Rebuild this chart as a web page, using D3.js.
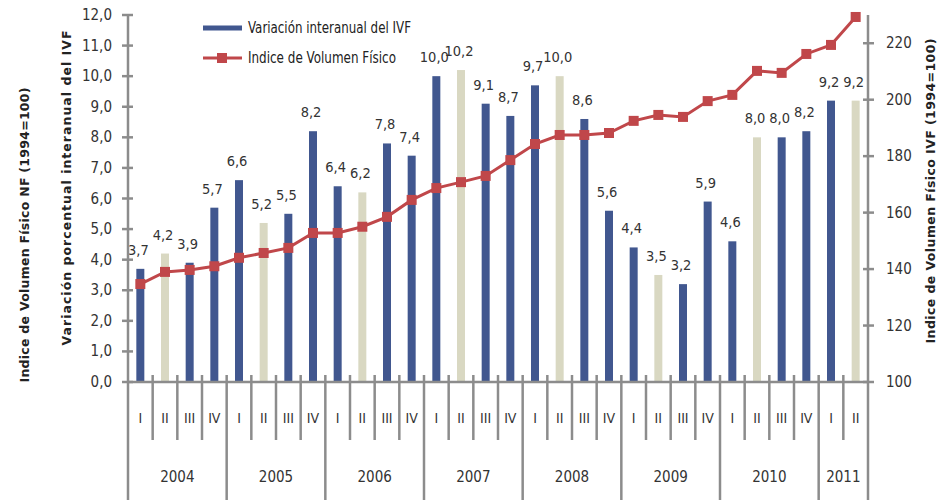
<!DOCTYPE html>
<html>
<head>
<meta charset="utf-8">
<script src="https://cdn.jsdelivr.net/npm/d3@7/dist/d3.min.js"></script>
<style>
	body { margin: 0; background: #fff; }
	svg text { font-family: "Liberation Sans Narrow", "DejaVu Sans Condensed", sans-serif; }
</style>
</head>
<body>
<div id="chart"></div>
<script>
// quarters and years on the x axis
let quarters = ["I", "II", "III", "IV", "I", "II", "III", "IV", "I", "II", "III", "IV",
	"I", "II", "III", "IV", "I", "II", "III", "IV", "I", "II", "III", "IV",
	"I", "II", "III", "IV", "I", "II"];
let years = ["2004", "2005", "2006", "2007", "2008", "2009", "2010", "2011"];
let quartersPerYear = [4, 4, 4, 4, 4, 4, 4, 2];

// Variación interanual del IVF (%)
let variacion = [3.7, 4.2, 3.9, 5.7, 6.6, 5.2, 5.5, 8.2, 6.4, 6.2, 7.8, 7.4,
	10.0, 10.2, 9.1, 8.7, 9.7, 10.0, 8.6, 5.6, 4.4, 3.5, 3.2, 5.9,
	4.6, 8.0, 8.0, 8.2, 9.2, 9.2];

// Indice de Volumen Físico (1994=100)
let ivf = [134.7, 139.0, 139.7, 141.0, 144.0, 145.7, 147.5, 152.8, 152.8, 155.0, 158.5, 164.5,
	168.7, 170.8, 173.0, 178.6, 184.3, 187.5, 187.5, 188.2, 192.5, 194.6, 193.9, 199.5,
	201.7, 210.2, 209.5, 216.2, 219.4, 229.3];

let leftTicks = d3.range(0, 12.01, 1);
let rightTicks = [100, 120, 140, 160, 180, 200, 220];

let width = 951, height = 500;
let plotLeft = 128, plotRight = 868, plotTop = 15, base = 382;
let axisColor = "#8c8c8c";
let blue = "#41578f", beige = "#d9d8c2", red = "#c0474a";
let fmt = v => d3.format(".1f")(v).replace(".", ",");

const svg = d3.select("#chart").append("svg")
	.attr("width", width)
	.attr("height", height);

let x = d3.scaleBand()
	.domain(d3.range(quarters.length))
	.range([plotLeft, plotRight]);
let yL = d3.scaleLinear().domain([0, 12]).range([base, plotTop]);
let yR = d3.scaleLinear().domain([100, 230]).range([base, plotTop]);
let cx = i => x(i) + x.bandwidth() / 2;

// bars
svg.append("g")
	.selectAll("rect")
	.data(variacion)
	.join("rect")
	.attr("x", (d, i) => cx(i) - 4)
	.attr("width", 8)
	.attr("y", d => yL(d))
	.attr("height", d => base - yL(d))
	.attr("fill", (d, i) => quarters[i] === "II" ? beige : blue);

// bar labels
svg.append("g")
	.attr("font-size", 14.5)
	.attr("fill", "#333")
	.attr("text-anchor", "middle")
	.selectAll("text")
	.data(variacion)
	.join("text")
	.attr("x", (d, i) => cx(i) - 2)
	.attr("y", d => yL(d) - 14)
	.text(fmt);

// x axis baseline
svg.append("line")
	.attr("x1", plotLeft).attr("x2", plotRight)
	.attr("y1", base).attr("y2", base)
	.attr("stroke", axisColor).attr("stroke-width", 2.5);

// category separators
let yearBounds = d3.cumsum(quartersPerYear);
svg.append("g")
	.selectAll("line")
	.data(d3.range(1, quarters.length))
	.join("line")
	.attr("x1", i => x(i)).attr("x2", i => x(i))
	.attr("y1", 375)
	.attr("y2", i => yearBounds.includes(i) ? 500 : 440)
	.attr("stroke", axisColor).attr("stroke-width", 2.5);

// quarter labels
svg.append("g")
	.attr("font-size", 14)
	.attr("fill", "#333")
	.attr("text-anchor", "middle")
	.selectAll("text")
	.data(quarters)
	.join("text")
	.attr("x", (d, i) => cx(i))
	.attr("y", 423)
	.text(d => d);

// year labels
let yearStart = [0, ...Array.from(yearBounds).slice(0, -1)];
svg.append("g")
	.attr("font-size", 15)
	.attr("fill", "#333")
	.attr("text-anchor", "middle")
	.selectAll("text")
	.data(years)
	.join("text")
	.attr("x", (d, i) => (x(yearStart[i]) + x(yearStart[i] + quartersPerYear[i] - 1) + x.bandwidth()) / 2)
	.attr("y", 482)
	.text(d => d);

// left axis
svg.append("line")
	.attr("x1", plotLeft).attr("x2", plotLeft)
	.attr("y1", plotTop).attr("y2", 500)
	.attr("stroke", axisColor).attr("stroke-width", 2.5);
let lt = svg.append("g").selectAll("g").data(leftTicks).join("g");
lt.append("line")
	.attr("x1", plotLeft - 6).attr("x2", plotLeft + 5)
	.attr("y1", d => yL(d)).attr("y2", d => yL(d))
	.attr("stroke", axisColor).attr("stroke-width", 2.5);
lt.append("text")
	.attr("x", 112)
	.attr("y", d => yL(d) + 5)
	.attr("text-anchor", "end")
	.attr("font-size", 15)
	.attr("fill", "#333")
	.text(fmt);

// right axis
svg.append("line")
	.attr("x1", plotRight).attr("x2", plotRight)
	.attr("y1", plotTop).attr("y2", 500)
	.attr("stroke", axisColor).attr("stroke-width", 2.5);
let rt = svg.append("g").selectAll("g").data(rightTicks).join("g");
rt.append("line")
	.attr("x1", plotRight - 5).attr("x2", plotRight + 6)
	.attr("y1", d => yR(d)).attr("y2", d => yR(d))
	.attr("stroke", axisColor).attr("stroke-width", 2.5);
rt.append("text")
	.attr("x", 886)
	.attr("y", d => yR(d) + 5)
	.attr("font-size", 15)
	.attr("fill", "#333")
	.text(d => d);

// IVF line
let line = d3.line().x((d, i) => cx(i)).y(d => yR(d));
svg.append("path")
	.datum(ivf)
	.attr("fill", "none")
	.attr("stroke", red)
	.attr("stroke-width", 3)
	.attr("d", line);
svg.append("g")
	.selectAll("rect")
	.data(ivf)
	.join("rect")
	.attr("x", (d, i) => cx(i) - 5)
	.attr("y", d => yR(d) - 5)
	.attr("width", 10).attr("height", 10)
	.attr("fill", red);

// axis titles
function vTitle(txt, xPos, yPos, len, rot) {
	svg.append("text")
		.attr("transform", `translate(${xPos},${yPos}) rotate(${rot})`)
		.attr("text-anchor", "middle")
		.attr("font-size", 12.5)
		.attr("font-weight", "bold")
		.style("font-family", "'DejaVu Sans', sans-serif")
		.attr("fill", "#222")
		.attr("textLength", len)
		.attr("lengthAdjust", "spacing")
		.text(txt);
}
vTitle("Variación  porcentual interanual  del IVF", 71, 188, 315, -90);
vTitle("Indice de Volumen Físico NF  (1994=100)", 29, 235, 295, -90);
vTitle("Indice de Volumen Físico IVF  (1994=100)", 935, 191, 305, -90);

// legend
let legend = svg.append("g").attr("font-size", 15).attr("fill", "#222");
legend.append("line")
	.attr("x1", 203).attr("x2", 242).attr("y1", 28).attr("y2", 28)
	.attr("stroke", blue).attr("stroke-width", 5);
legend.append("text").attr("x", 248).attr("y", 33)
	.attr("textLength", 163).attr("lengthAdjust", "spacingAndGlyphs")
	.text("Variación interanual del IVF");
legend.append("line")
	.attr("x1", 203).attr("x2", 242).attr("y1", 58).attr("y2", 58)
	.attr("stroke", red).attr("stroke-width", 3);
legend.append("rect")
	.attr("x", 217).attr("y", 53).attr("width", 10).attr("height", 10)
	.attr("fill", red);
legend.append("text").attr("x", 248).attr("y", 63)
	.attr("textLength", 148).attr("lengthAdjust", "spacingAndGlyphs")
	.text("Indice de Volumen Físico");
</script>
</body>
</html>
